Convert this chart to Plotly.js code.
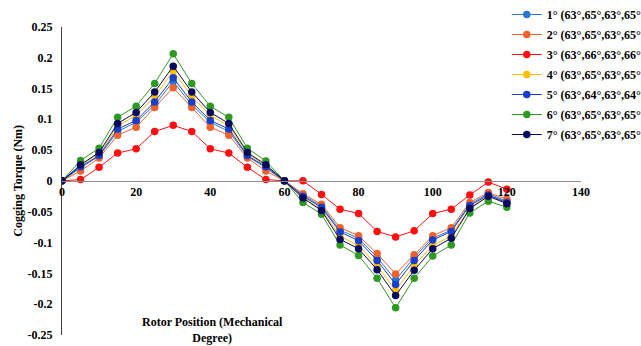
<!DOCTYPE html>
<html>
<head>
<meta charset="utf-8">
<script src="https://cdn.plot.ly/plotly-3.0.1.min.js"></script>
<style>html,body{margin:0;padding:0;background:#fff}#chart{width:641px;height:346px}</style>
</head>
<body>
<div id="chart"></div>
<script>
const rotorPosition = [0,5,10,15,20,25,30,35,40,45,50,55,60,65,70,75,80,85,90,95,100,105,110,115,120];

const seriesNames = [
  "1° (63°,65°,63°,65°)",
  "2° (63°,65°,63°,65°)",
  "3° (63°,66°,63°,66°)",
  "4° (63°,65°,63°,65°)",
  "5° (63°,64°,63°,64°)",
  "6° (63°,65°,63°,65°)",
  "7° (63°,65°,63°,65°)"
];

const torque1 = [0,0.021,0.040,0.080,0.095,0.123,0.161,0.123,0.095,0.080,0.040,0.021,0,-0.023,-0.041,-0.080,-0.093,-0.124,-0.161,-0.124,-0.093,-0.080,-0.038,-0.021,-0.033];
const torque2 = [0,0.016,0.037,0.074,0.087,0.119,0.151,0.119,0.087,0.074,0.037,0.016,0,-0.021,-0.038,-0.076,-0.089,-0.118,-0.151,-0.120,-0.089,-0.076,-0.035,-0.019,-0.030];
const torque3 = [0,0.002,0.022,0.045,0.052,0.080,0.090,0.080,0.052,0.045,0.022,0.002,0,0,-0.022,-0.046,-0.053,-0.082,-0.091,-0.081,-0.053,-0.046,-0.023,-0.002,-0.0135];
const torque4 = [0,0.025,0.044,0.089,0.106,0.137,0.178,0.137,0.106,0.089,0.044,0.025,0,-0.027,-0.046,-0.090,-0.105,-0.137,-0.178,-0.137,-0.105,-0.089,-0.044,-0.024,-0.036];
const torque5 = [0,0.023,0.041,0.084,0.098,0.128,0.167,0.128,0.098,0.084,0.041,0.023,0,-0.025,-0.043,-0.083,-0.097,-0.129,-0.168,-0.129,-0.096,-0.082,-0.040,-0.023,-0.035];
const torque6 = [0,0.033,0.053,0.103,0.121,0.158,0.206,0.158,0.121,0.103,0.053,0.032,0,-0.035,-0.054,-0.104,-0.121,-0.158,-0.206,-0.158,-0.122,-0.104,-0.052,-0.033,-0.043];
const torque7 = [0,0.026,0.046,0.093,0.111,0.144,0.186,0.144,0.111,0.093,0.046,0.026,0,-0.028,-0.048,-0.095,-0.110,-0.144,-0.186,-0.145,-0.110,-0.093,-0.045,-0.025,-0.037];

const seriesValues = [torque1, torque2, torque3, torque4, torque5, torque6, torque7];
const seriesColors = ["#2b78d0", "#f0622c", "#ff1010", "#ffbf00", "#1a3ec8", "#2f9a22", "#0a0a5e"];

const xTickVals = [0,20,40,60,80,100,120,140];
const xTickText = ["0","20","40","60","80","100","120","140"];
const yTickVals = [0.25,0.2,0.15,0.1,0.05,0,-0.05,-0.1,-0.15,-0.2,-0.25];
const yTickText = ["0.25","0.2","0.15","0.1","0.05","0","-0.05","-0.1","-0.15","-0.2","-0.25"];

const fontFam = "'Liberation Serif', 'Times New Roman', serif";
const boldFont = {family: fontFam, size: 12, color: "#000", weight: "bold"};

const traces = seriesValues.map((vals, i) => ({
  x: rotorPosition,
  y: vals,
  name: seriesNames[i],
  legendgroup: "g" + i,
  type: "scatter",
  mode: "lines+markers",
  line: {color: seriesColors[i], width: 1},
  marker: {color: seriesColors[i], size: 7.5}
}));

const layout = {
  width: 641, height: 346,
  margin: {l: 62, r: 60, t: 0, b: 11, autoexpand: false},
  paper_bgcolor: "#fff", plot_bgcolor: "#fff",
  font: {family: fontFam, size: 12, color: "#000"},
  showlegend: true,
  legend: {
    x: 0.857, xanchor: "left", y: 1, yanchor: "top",
    bgcolor: "rgba(0,0,0,0)",
    font: {family: fontFam, size: 12, color: "#000", weight: "bold"},
    itemwidth: 30,
    tracegroupgap: 1
  },
  xaxis: {
    range: [0, 140], anchor: "free", position: 0.4602,
    showline: true, linecolor: "#8c8c8c", linewidth: 1,
    showgrid: false, zeroline: false, ticks: "",
    tickvals: xTickVals, ticktext: xTickText,
    tickfont: boldFont
  },
  yaxis: {
    range: [-0.25, 0.25], domain: [0, 0.9204],
    showline: true, linecolor: "#404040", linewidth: 1,
    showgrid: false, zeroline: false, ticks: "",
    tickvals: yTickVals, ticktext: yTickText,
    tickfont: boldFont,
    ticklabelstandoff: 6,
    title: {text: "Cogging Torque (Nm)", standoff: 2, font: boldFont}
  },
  annotations: [{
    xref: "paper", yref: "paper", x: 0.29, y: 0.066, xanchor: "center", yanchor: "top",
    text: "Rotor Position (Mechanical<br>Degree)", showarrow: false,
    font: boldFont
  }]
};

Plotly.newPlot("chart", traces, layout, {displayModeBar: false, staticPlot: true});
</script>
</body>
</html>
